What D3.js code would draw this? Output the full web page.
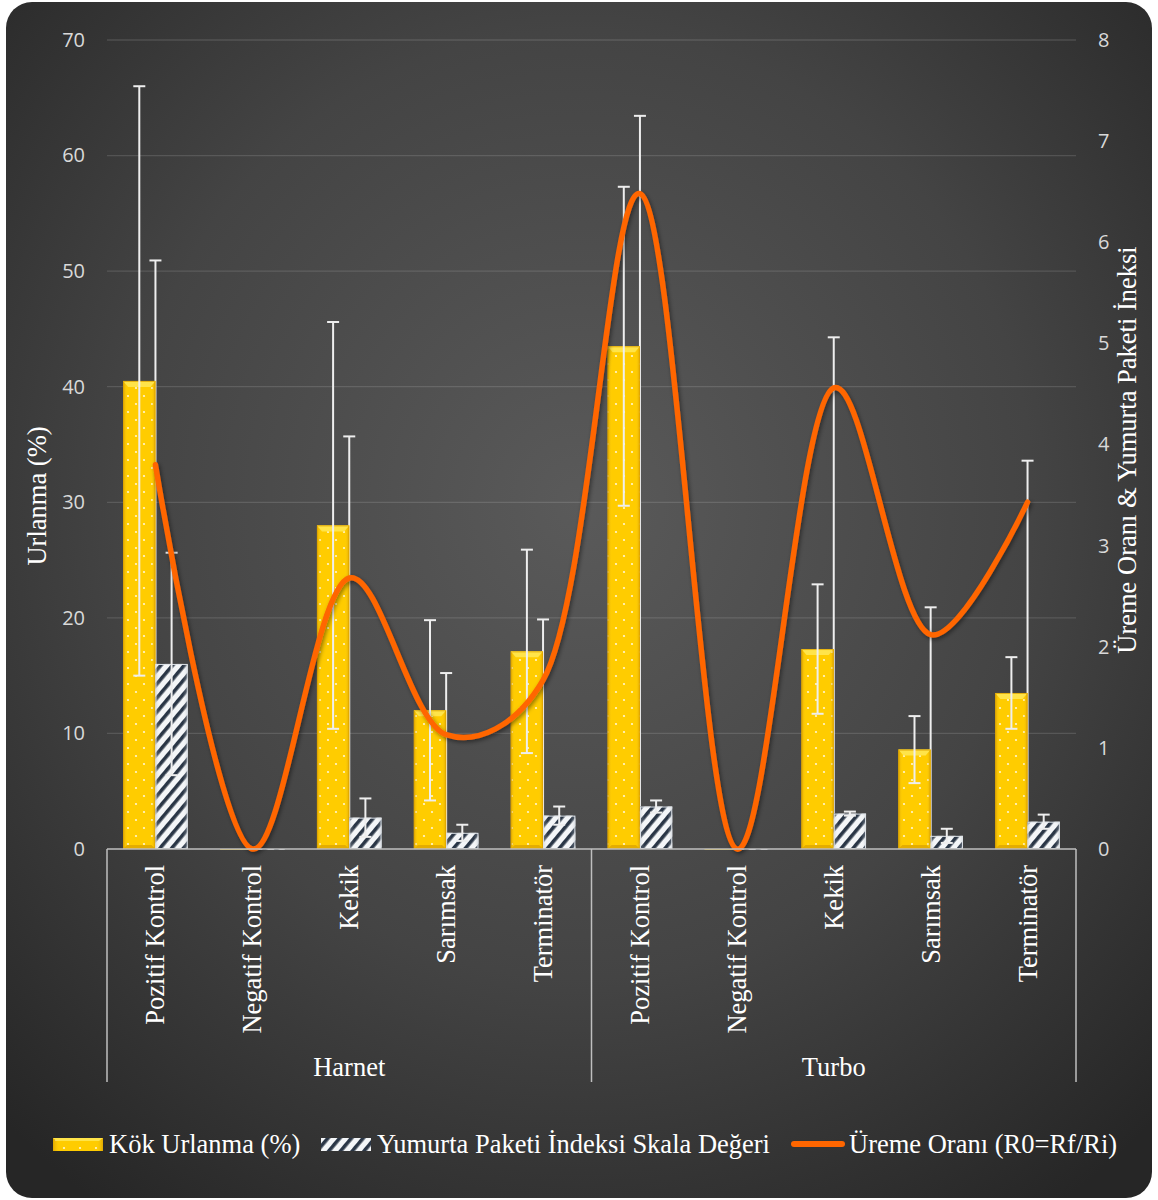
<!DOCTYPE html>
<html>
<head>
<meta charset="utf-8">
<script src="https://cdn.jsdelivr.net/npm/d3@7"></script>
<style>
  html, body { margin: 0; padding: 0; background: #ffffff; }
  svg { display: block; }
</style>
</head>
<body>
<svg id="chart" width="1158" height="1200"></svg>
<script>
// Category labels (two cultivar groups, five treatments each)
const groups = ["Harnet", "Turbo"];
const treatments = ["Pozitif Kontrol", "Negatif Kontrol", "Kekik", "Sarımsak", "Terminatör"];
const categories = groups.flatMap(g => treatments.map(t => g + "|" + t));

// Kök Urlanma (%) — left axis
const kokUrlanma = [40.5, 0, 28.0, 12.0, 17.1, 43.5, 0, 17.3, 8.6, 13.5];
const kokErr     = [25.5, 0, 17.6, 7.8, 8.8, 13.8, 0, 5.6, 2.9, 3.1];

// Yumurta Paketi İndeksi Skala Değeri — right axis
const yumurta    = [1.83, 0, 0.31, 0.16, 0.33, 0.42, 0, 0.35, 0.13, 0.27];
const yumurtaErr = [1.10, 0, 0.19, 0.08, 0.09, 0.06, 0, 0.02, 0.07, 0.07];

// Üreme Oranı (R0=Rf/Ri) — right axis
const ureme          = [3.80, 0, 2.68, 1.13, 1.67, 6.48, 0, 4.56, 2.12, 3.43];
const uremeErrPlus   = [2.02, 0, 1.40, 0.61, 0.60, 0.77, 0, 0.50, 0.27, 0.41];
const uremeErrMinus  = [3.80, 0, 2.68, 1.13, 1.67, 6.48, 0, 4.56, 2.12, 3.43];

// Axis ticks
const leftTicks  = [0, 10, 20, 30, 40, 50, 60, 70];
const rightTicks = [0, 1, 2, 3, 4, 5, 6, 7, 8];

const svg = d3.select("#chart");
const W = 1158, H = 1200;
const plot = { left: 107, right: 1076, top: 40, bottom: 849 };

const defs = svg.append("defs");

// Background: dark radial gradient panel
const bg = defs.append("radialGradient").attr("id", "bgGrad")
  .attr("cx", "50%").attr("cy", "42%").attr("r", "72%");
bg.append("stop").attr("offset", "0%").attr("stop-color", "#5a5a5a");
bg.append("stop").attr("offset", "55%").attr("stop-color", "#444444");
bg.append("stop").attr("offset", "100%").attr("stop-color", "#262626");

// Dotted yellow fill
const dots = defs.append("pattern").attr("id", "dots")
  .attr("patternUnits", "userSpaceOnUse").attr("width", 16).attr("height", 16);
dots.append("rect").attr("width", 16).attr("height", 16).attr("fill", "#ffcc00");
dots.append("circle").attr("cx", 8).attr("cy", 4).attr("r", 1.1).attr("fill", "#fff6d0");
dots.append("circle").attr("cx", 0).attr("cy", 12).attr("r", 1.1).attr("fill", "#fff6d0");
dots.append("circle").attr("cx", 16).attr("cy", 12).attr("r", 1.1).attr("fill", "#fff6d0");

// Horizontal shading across the yellow bar for a bevelled look
const shade = defs.append("linearGradient").attr("id", "yShade")
  .attr("x1", "0%").attr("x2", "100%").attr("y1", "0%").attr("y2", "0%");
shade.append("stop").attr("offset", "0%").attr("stop-color", "#c98f00").attr("stop-opacity", 0.6);
shade.append("stop").attr("offset", "14%").attr("stop-color", "#ffd21a").attr("stop-opacity", 0.0);
shade.append("stop").attr("offset", "86%").attr("stop-color", "#ffd21a").attr("stop-opacity", 0.0);
shade.append("stop").attr("offset", "100%").attr("stop-color", "#c98f00").attr("stop-opacity", 0.6);

// Diagonal hatch
const hatch = defs.append("pattern").attr("id", "hatch")
  .attr("patternUnits", "userSpaceOnUse").attr("width", 9).attr("height", 9)
  .attr("patternTransform", "rotate(40)");
hatch.append("rect").attr("width", 9).attr("height", 9).attr("fill", "#f4f6f8");
hatch.append("rect").attr("x", 0).attr("width", 3.6).attr("height", 9).attr("fill", "#2a3646");

const hShade = defs.append("linearGradient").attr("id", "hShade")
  .attr("x1", "0%").attr("x2", "100%");
hShade.append("stop").attr("offset", "0%").attr("stop-color", "#9aa3ad").attr("stop-opacity", 0.35);
hShade.append("stop").attr("offset", "15%").attr("stop-color", "#ffffff").attr("stop-opacity", 0);
hShade.append("stop").attr("offset", "85%").attr("stop-color", "#ffffff").attr("stop-opacity", 0);
hShade.append("stop").attr("offset", "100%").attr("stop-color", "#9aa3ad").attr("stop-opacity", 0.35);

// Soft shadow for the line
const sh = defs.append("filter").attr("id", "lineShadow")
  .attr("x", "-10%").attr("y", "-10%").attr("width", "120%").attr("height", "120%");
sh.append("feDropShadow").attr("dx", 1.5).attr("dy", 2).attr("stdDeviation", 2)
  .attr("flood-color", "#000").attr("flood-opacity", 0.45);

// Panel
svg.append("rect").attr("x", 6).attr("y", 2).attr("width", W - 12).attr("height", H - 4)
  .attr("rx", 26).attr("fill", "url(#bgGrad)");

// Scales
const x = d3.scaleBand().domain(categories).range([plot.left, plot.right]).padding(0);
const yL = d3.scaleLinear().domain([0, 70]).range([plot.bottom, plot.top]);
const yR = d3.scaleLinear().domain([0, 8]).range([plot.bottom, plot.top]);
const bw = x.bandwidth();
const barW = bw / 3;
const xKok = c => x(c) + bw / 6;
const xYum = c => x(c) + bw / 6 + barW;
const xMid = c => x(c) + bw / 2;

const sansFont = "'Open Sans', 'Noto Sans', sans-serif";
const serifFont = "'Liberation Serif', 'DejaVu Serif', serif";
const serifSize = 26.5;

// Gridlines
svg.append("g")
  .selectAll("line").data(leftTicks.filter(t => t > 0)).join("line")
  .attr("x1", plot.left).attr("x2", plot.right)
  .attr("y1", d => yL(d)).attr("y2", d => yL(d))
  .attr("stroke", "#ffffff").attr("stroke-opacity", 0.13).attr("stroke-width", 1.3);

// Left axis labels
const axL = svg.append("g").attr("transform", `translate(${plot.left},0)`)
  .call(d3.axisLeft(yL).tickValues(leftTicks).tickSize(0).tickPadding(22));
axL.select(".domain").remove();
axL.selectAll("text").attr("font-family", sansFont).attr("font-size", 20)
  .attr("fill", "#d9d9d9");

// Right axis labels
const axR = svg.append("g").attr("transform", `translate(${plot.right},0)`)
  .call(d3.axisRight(yR).tickValues(rightTicks).tickSize(0).tickPadding(22));
axR.select(".domain").remove();
axR.selectAll("text").attr("font-family", sansFont).attr("font-size", 20)
  .attr("fill", "#d9d9d9");

// Axis titles
svg.append("text")
  .attr("transform", `translate(46,496) rotate(-90)`)
  .attr("text-anchor", "middle").attr("font-family", serifFont).attr("font-size", serifSize)
  .attr("fill", "#ffffff").text("Urlanma (%)");
svg.append("text")
  .attr("transform", `translate(1136,450) rotate(-90)`)
  .attr("text-anchor", "middle").attr("font-family", serifFont).attr("font-size", serifSize)
  .attr("fill", "#ffffff").text("Üreme Oranı & Yumurta Paketi İneksi");

// Error bar helper
function errBar(g, cx, yTop, yBot, cap) {
  g.append("line").attr("x1", cx).attr("x2", cx).attr("y1", yTop).attr("y2", yBot);
  g.append("line").attr("x1", cx - cap).attr("x2", cx + cap).attr("y1", yTop).attr("y2", yTop);
  if (yBot < plot.bottom - 0.5)
    g.append("line").attr("x1", cx - cap).attr("x2", cx + cap).attr("y1", yBot).attr("y2", yBot);
}

// Error bars of the reproduction ratio (behind the bars)
const gLineErr = svg.append("g").attr("stroke", "#eeeeee").attr("stroke-width", 2);
categories.forEach((c, i) => {
  if (ureme[i] === 0 && uremeErrPlus[i] === 0) return;
  const top = yR(ureme[i] + uremeErrPlus[i]);
  const bot = yR(Math.max(0, ureme[i] - uremeErrMinus[i]));
  errBar(gLineErr, xMid(c), top, bot, 6);
});

// Yellow bars
const gKok = svg.append("g");
categories.forEach((c, i) => {
  const x0 = xKok(c), y0 = yL(kokUrlanma[i]), h = plot.bottom - y0;
  const g = gKok.append("g");
  g.append("rect").attr("x", x0).attr("y", y0).attr("width", barW).attr("height", Math.max(h, 0.8))
    .attr("fill", "url(#dots)");
  g.append("rect").attr("x", x0).attr("y", y0).attr("width", barW).attr("height", Math.max(h, 0.8))
    .attr("fill", "url(#yShade)");
  if (h > 8) {
    g.append("polygon")
      .attr("points", `${x0},${y0} ${x0 + barW},${y0} ${x0 + barW - 5},${y0 + 6} ${x0 + 5},${y0 + 6}`)
      .attr("fill", "#ffe44a");
    g.append("polygon")
      .attr("points", `${x0},${plot.bottom} ${x0 + barW},${plot.bottom} ${x0 + barW - 4},${plot.bottom - 4} ${x0 + 4},${plot.bottom - 4}`)
      .attr("fill", "#d9a000").attr("opacity", 0.7);
  }
  g.append("rect").attr("x", x0 + 0.5).attr("y", y0 + 0.5).attr("width", barW - 1).attr("height", Math.max(h - 1, 0))
    .attr("fill", "none").attr("stroke", "#e0a500").attr("stroke-width", 1).attr("opacity", 0.8);
});

// Hatched bars
const gYum = svg.append("g");
categories.forEach((c, i) => {
  const x0 = xYum(c), y0 = yR(yumurta[i]), h = plot.bottom - y0;
  const g = gYum.append("g");
  g.append("rect").attr("x", x0).attr("y", y0).attr("width", barW).attr("height", Math.max(h, 0.8))
    .attr("fill", "url(#hatch)");
  g.append("rect").attr("x", x0).attr("y", y0).attr("width", barW).attr("height", Math.max(h, 0.8))
    .attr("fill", "url(#hShade)");
  if (h > 4)
    g.append("rect").attr("x", x0 + 0.5).attr("y", y0 + 0.5).attr("width", barW - 1).attr("height", h - 1)
      .attr("fill", "none").attr("stroke", "#dfe3e8").attr("stroke-width", 1);
});

// Error bars on the bars
const gBarErr = svg.append("g").attr("stroke", "#eeeeee").attr("stroke-width", 2);
categories.forEach((c, i) => {
  if (kokErr[i] > 0)
    errBar(gBarErr, xKok(c) + barW / 2, yL(kokUrlanma[i] + kokErr[i]),
      yL(Math.max(0, kokUrlanma[i] - kokErr[i])), 6);
  if (yumurtaErr[i] > 0)
    errBar(gBarErr, xYum(c) + barW / 2, yR(yumurta[i] + yumurtaErr[i]),
      yR(Math.max(0, yumurta[i] - yumurtaErr[i])), 6);
});

// Reproduction ratio line (smoothed)
const lineGen = d3.line()
  .x((d, i) => xMid(categories[i]))
  .y(d => yR(d))
  .curve(d3.curveCatmullRom.alpha(0.35));
svg.append("path").datum(ureme)
  .attr("d", lineGen)
  .attr("fill", "none").attr("stroke", "#ff6600").attr("stroke-width", 5.5)
  .attr("stroke-linecap", "round").attr("stroke-linejoin", "round")
  .attr("filter", "url(#lineShadow)");

// Category axis
const axisColor = "#bfbfbf";
svg.append("line").attr("x1", plot.left).attr("x2", plot.right)
  .attr("y1", plot.bottom).attr("y2", plot.bottom)
  .attr("stroke", axisColor).attr("stroke-width", 1.5);
[plot.left, (plot.left + plot.right) / 2, plot.right].forEach(xx => {
  svg.append("line").attr("x1", xx).attr("x2", xx).attr("y1", plot.bottom).attr("y2", 1082)
    .attr("stroke", axisColor).attr("stroke-width", 1.5);
});

// Treatment labels (rotated)
svg.append("g").selectAll("text").data(categories).join("text")
  .attr("transform", c => `translate(${xMid(c) + 9},${plot.bottom + 16}) rotate(-90)`)
  .attr("text-anchor", "end")
  .attr("font-family", serifFont).attr("font-size", serifSize).attr("fill", "#ffffff")
  .text(c => c.split("|")[1]);

// Group labels
groups.forEach((g, gi) => {
  const cs = categories.slice(gi * 5, gi * 5 + 5);
  const cx = (x(cs[0]) + x(cs[4]) + bw) / 2;
  svg.append("text").attr("x", cx).attr("y", 1076).attr("text-anchor", "middle")
    .attr("font-family", serifFont).attr("font-size", serifSize).attr("fill", "#ffffff").text(g);
});

// Legend
const lg = svg.append("g").attr("font-family", serifFont).attr("font-size", serifSize).attr("fill", "#ffffff");
const ly = 1144;
// yellow swatch
lg.append("rect").attr("x", 53).attr("y", ly - 6).attr("width", 50).attr("height", 13).attr("fill", "url(#dots)");
lg.append("rect").attr("x", 53).attr("y", ly - 6).attr("width", 50).attr("height", 13).attr("fill", "url(#yShade)");
lg.append("polygon").attr("points", `53,${ly - 6} 103,${ly - 6} 99,${ly - 3} 57,${ly - 3}`).attr("fill", "#ffe44a");
lg.append("text").attr("x", 109).attr("y", ly + 9).text("Kök Urlanma (%)");
// hatched swatch
lg.append("rect").attr("x", 321).attr("y", ly - 6).attr("width", 50).attr("height", 13).attr("fill", "url(#hatch)");
lg.append("text").attr("x", 377).attr("y", ly + 9).text("Yumurta Paketi İndeksi Skala Değeri");
// line swatch
lg.append("line").attr("x1", 794).attr("x2", 842).attr("y1", ly).attr("y2", ly)
  .attr("stroke", "#ff6600").attr("stroke-width", 6).attr("stroke-linecap", "round");
lg.append("text").attr("x", 849).attr("y", ly + 9).text("Üreme Oranı (R0=Rf/Ri)");
</script>
</body>
</html>
